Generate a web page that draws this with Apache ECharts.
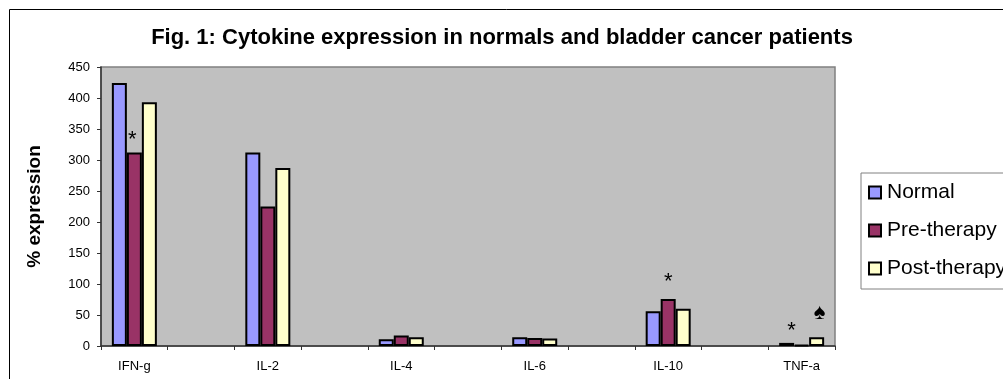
<!DOCTYPE html>
<html>
<head>
<meta charset="utf-8">
<script src="https://cdn.jsdelivr.net/npm/echarts@6/dist/echarts.min.js"></script>
<style>
  html, body { margin: 0; padding: 0; background: #fff; }
  #chart { width: 1003px; height: 379px; }
</style>
</head>
<body>
<div id="chart"></div>
<script>
const cytokines = ['IFN-g', 'IL-2', 'IL-4', 'IL-6', 'IL-10', 'TNF-a'];
const normal = [424, 312, 11, 14, 56, 5];
const preTherapy = [312, 225, 17, 13, 76, 2];
const postTherapy = [393, 287, 14, 12, 60, 14];
const yTicks = { min: 0, max: 450, step: 50 };

const font = 'Liberation Sans, Arial, sans-serif';

// Excel-style spacing: an empty category between each cytokine
const categories = [];
cytokines.forEach((c, i) => {
    categories.push(c);
    if (i < cytokines.length - 1) categories.push('');
});
const spread = (vals) => {
    const out = [];
    vals.forEach((v, i) => {
        out.push(v);
        if (i < vals.length - 1) out.push(null);
    });
    return out;
};

const mark = (text, size, dx, dy) => ({
    show: true, position: 'top', formatter: text, distance: dy,
    offset: [dx, 0], color: '#000', fontSize: size, fontFamily: font
});

const normalData = spread(normal);
const preData = spread(preTherapy);
const postData = spread(postTherapy);
// significance marks from the figure
preData[0] = { value: preData[0], label: mark('*', 22, -2, 2) };
preData[8] = { value: preData[8], label: mark('*', 22, 0, 6) };
normalData[10] = { value: normalData[10], label: mark('*', 22, 5, 1) };
postData[10] = { value: postData[10], label: mark('♠', 22, 3, 13) };

const chart = echarts.init(document.getElementById('chart'));

const barStyle = (color) => ({ color: color, borderColor: '#000', borderWidth: 2 });

chart.setOption({
    animation: false,
    title: {
        text: 'Fig. 1: Cytokine expression in normals and bladder cancer patients',
        left: 497, top: 22, textAlign: 'center',
        textStyle: { fontFamily: font, fontSize: 22, fontWeight: 'bold', color: '#000' }
    },
    graphic: [{
        type: 'rect', shape: { x: 9.5, y: 9.5, width: 1200, height: 600 },
        style: { fill: 'none', stroke: '#000', lineWidth: 1 }, silent: true
    }],
    legend: {
        orient: 'vertical', left: 861, top: 173,
        padding: [9, 120, 10, 7], itemGap: 17,
        itemWidth: 12, itemHeight: 12, icon: 'rect',
        borderColor: '#808080', borderWidth: 1, backgroundColor: '#fff',
        itemStyle: { borderColor: '#000', borderWidth: 2 },
        textStyle: { fontFamily: font, fontSize: 21, color: '#000', padding: [0, 0, 0, 1] }
    },
    grid: {
        left: 101, right: 168, top: 67, bottom: 33,
        show: true, backgroundColor: '#C0C0C0', borderColor: '#808080', borderWidth: 1.5
    },
    xAxis: {
        type: 'category', data: categories,
        axisLine: { lineStyle: { color: '#333', width: 1.5 } },
        axisTick: { show: true, interval: 0, length: 4, lineStyle: { color: '#333' } },
        axisLabel: { interval: 0, margin: 14, fontFamily: font, fontSize: 13, color: '#000' }
    },
    yAxis: {
        type: 'value', min: yTicks.min, max: yTicks.max, interval: yTicks.step,
        name: '% expression', nameLocation: 'middle', nameGap: 57, nameRotate: 90,
        nameTextStyle: { fontFamily: font, fontSize: 19, fontWeight: 'bold', color: '#000' },
        axisLine: { show: true, lineStyle: { color: '#333', width: 1.5 } },
        axisTick: { show: true, length: 4, lineStyle: { color: '#333' } },
        splitLine: { show: false },
        axisLabel: { margin: 11, fontFamily: font, fontSize: 13, color: '#000' }
    },
    series: [
        { name: 'Normal', type: 'bar', data: normalData, barWidth: 15, barGap: '0%', itemStyle: barStyle('#9999FF') },
        { name: 'Pre-therapy', type: 'bar', data: preData, barWidth: 15, barGap: '0%', itemStyle: barStyle('#993366') },
        { name: 'Post-therapy', type: 'bar', data: postData, barWidth: 15, barGap: '0%', itemStyle: barStyle('#FFFFCC') }
    ]
});
</script>
</body>
</html>
